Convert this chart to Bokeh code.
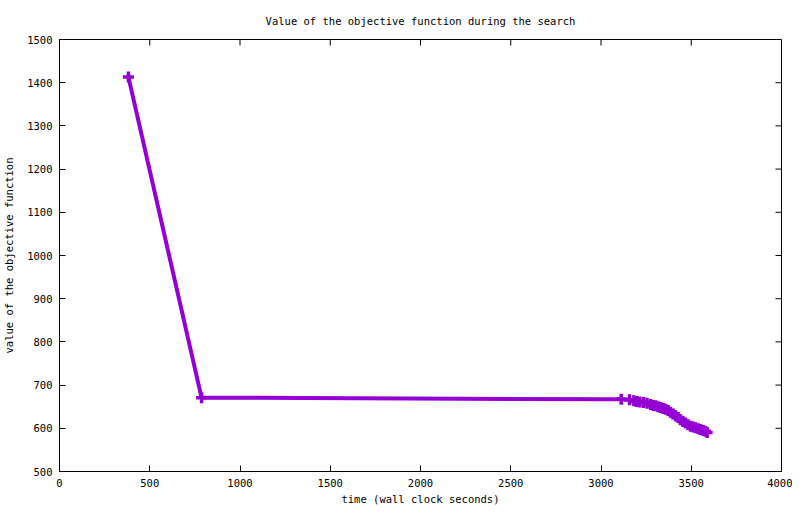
import math
from bokeh.plotting import figure
from bokeh.models import Range1d, FixedTicker
from bokeh.embed import file_html
from bokeh.resources import INLINE

# data
times = [382, 787, 3112, 3158, 3182, 3197, 3215, 3235, 3255, 3275, 3290, 3302,
         3316, 3330, 3344, 3358, 3372, 3385, 3399, 3413, 3427, 3440, 3454, 3468,
         3482, 3496, 3510, 3524, 3538, 3551, 3565, 3579, 3588]
values = [1413, 671, 667, 666, 664, 662, 661, 660, 658, 655, 653, 652,
          650, 648, 646, 644, 641, 637, 633, 629, 625, 620, 616, 612,
          608, 605, 603, 601, 599, 597, 595, 593, 590]
x_ticks = [0, 500, 1000, 1500, 2000, 2500, 3000, 3500, 4000]
y_ticks = [500, 600, 700, 800, 900, 1000, 1100, 1200, 1300, 1400, 1500]
x_min, x_max = 0, 4000
y_min, y_max = 500, 1500

FONT = "DejaVu Sans Mono"
FS = "10.5px"
COLOR = "#9400D3"

p = figure(frame_width=722, frame_height=432, output_backend="svg", toolbar_location=None,
           x_range=Range1d(x_min, x_max), y_range=Range1d(y_min, y_max),
           title="Value of the objective function during the search",
           min_border_left=51, min_border_right=11, min_border_top=32, min_border_bottom=34)

p.title.align = "center"
p.title.text_font = FONT
p.title.text_font_size = FS
p.title.text_font_style = "normal"
p.title.text_color = "black"
p.title.offset = 0
p.title.standoff = 25

p.outline_line_color = "black"
p.outline_line_width = 1
p.outline_line_alpha = 1
p.xgrid.visible = False
p.ygrid.visible = False
p.background_fill_color = "white"
p.border_fill_color = "white"

for ax, ticks in ((p.xaxis[0], x_ticks), (p.yaxis[0], y_ticks)):
    ax.ticker = FixedTicker(ticks=ticks)
    ax.major_tick_in = 6
    ax.major_tick_out = 0
    ax.minor_tick_line_color = None
    ax.axis_line_color = "black"
    ax.major_tick_line_color = "black"
    ax.major_label_text_font = FONT
    ax.major_label_text_font_size = FS
    ax.major_label_text_color = "black"
    ax.axis_label_text_font = FONT
    ax.axis_label_text_font_size = FS
    ax.axis_label_text_font_style = "normal"
    ax.axis_label_text_color = "black"

p.xaxis.axis_label = "time (wall clock seconds)"
p.yaxis.axis_label = "value of the objective function"
p.xaxis.major_label_standoff = 7
p.xaxis.axis_label_standoff = 3
p.yaxis.major_label_standoff = 7
p.yaxis.axis_label_standoff = 9

# mirrored ticks on top and right edges (screen-length rays at the tick values)
p.ray(x=x_ticks, y=[y_max] * len(x_ticks), length=6, length_units="screen",
      angle=-math.pi / 2, line_color="black", line_width=1)
p.ray(x=[x_max] * len(y_ticks), y=y_ticks, length=6, length_units="screen",
      angle=math.pi, line_color="black", line_width=1)

p.line(times, values, line_color=COLOR, line_width=4)
p.scatter(times, values, marker="cross", size=11, line_color=COLOR, line_width=3.5)

open("out.html", "w").write(file_html(p, INLINE))
